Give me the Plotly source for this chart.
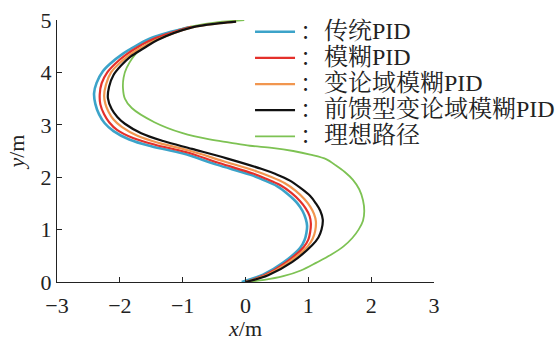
import plotly.graph_objects as go

# ---- data ----
names = ["传统PID", "模糊PID", "变论域模糊PID", "前馈型变论域模糊PID", "理想路径"]

x_trad = [-0.06, 0.28, 0.60, 0.87, 0.94, 0.97, 0.98, 0.96, 0.91, 0.82, 0.68, 0.50, 0.28, 0.07, -0.46, -0.99, -1.50, -1.85, -2.10, -2.24, -2.33, -2.39, -2.41, -2.37, -2.27, -2.14, -1.97, -1.75, -1.49, -0.90]
y_trad = [0.00, 0.14, 0.37, 0.65, 0.80, 0.94, 1.07, 1.20, 1.35, 1.51, 1.67, 1.83, 1.95, 2.05, 2.24, 2.45, 2.59, 2.72, 2.88, 3.03, 3.20, 3.40, 3.60, 3.80, 4.02, 4.18, 4.34, 4.50, 4.66, 4.86]

x_fuzzy = [0.00, 0.30, 0.64, 0.92, 1.00, 1.03, 1.04, 1.02, 0.96, 0.87, 0.73, 0.55, 0.33, 0.12, -0.42, -0.95, -1.44, -1.79, -2.04, -2.17, -2.25, -2.31, -2.32, -2.29, -2.20, -2.07, -1.90, -1.69, -1.44, -0.86]
y_fuzzy = [0.00, 0.13, 0.37, 0.66, 0.81, 0.96, 1.12, 1.26, 1.40, 1.54, 1.70, 1.85, 1.97, 2.07, 2.27, 2.48, 2.62, 2.75, 2.90, 3.05, 3.20, 3.39, 3.58, 3.79, 4.00, 4.17, 4.34, 4.50, 4.65, 4.87]

x_vu = [0.00, 0.33, 0.69, 0.99, 1.07, 1.11, 1.12, 1.09, 1.03, 0.94, 0.80, 0.62, 0.40, 0.18, -0.36, -0.90, -1.37, -1.72, -1.97, -2.10, -2.18, -2.23, -2.25, -2.22, -2.14, -2.01, -1.85, -1.65, -1.40, -0.85, -0.40, -0.15]
y_vu = [0.00, 0.13, 0.38, 0.68, 0.83, 0.98, 1.16, 1.30, 1.44, 1.58, 1.74, 1.89, 2.01, 2.11, 2.31, 2.51, 2.65, 2.79, 2.96, 3.10, 3.25, 3.40, 3.55, 3.77, 4.00, 4.17, 4.33, 4.48, 4.63, 4.86, 4.94, 4.97]

x_ff = [0.00, 0.36, 0.74, 1.06, 1.16, 1.21, 1.23, 1.19, 1.12, 1.03, 0.88, 0.70, 0.48, 0.25, -0.30, -0.85, -1.31, -1.66, -1.92, -2.04, -2.13, -2.19, -2.17, -2.10, -1.98, -1.83, -1.62, -1.40, -0.85, -0.40, -0.15]
y_ff = [0.00, 0.13, 0.38, 0.70, 0.85, 1.00, 1.19, 1.36, 1.50, 1.64, 1.79, 1.94, 2.06, 2.16, 2.36, 2.54, 2.69, 2.84, 3.02, 3.15, 3.30, 3.51, 3.73, 3.95, 4.13, 4.30, 4.46, 4.62, 4.86, 4.94, 4.97]

x_ideal = [0.00, 0.30, 0.60, 0.88, 1.13, 1.36, 1.56, 1.70, 1.80, 1.87, 1.89, 1.87, 1.81, 1.71, 1.58, 1.42, 1.29, 1.03, 0.76, 0.42, 0.07, -0.25, -0.57, -1.00, -1.45, -1.81, -1.92, -1.95, -1.94, -1.89, -1.71, -1.39, -0.96, -0.49, -0.02]
y_ideal = [0.00, 0.04, 0.11, 0.22, 0.37, 0.52, 0.68, 0.84, 1.00, 1.17, 1.35, 1.56, 1.77, 1.95, 2.10, 2.24, 2.34, 2.43, 2.50, 2.56, 2.60, 2.66, 2.72, 2.84, 3.05, 3.32, 3.50, 3.70, 3.90, 4.09, 4.40, 4.66, 4.85, 4.95, 5.00]

x_ticks = [-3, -2, -1, 0, 1, 2, 3]
y_ticks = [0, 1, 2, 3, 4, 5]
x_ticktext = ["−3", "−2", "−1", "0", "1", "2", "3"]

colors = ["#3CA3C9", "#E4302B", "#F1964F", "#111111", "#7DC253"]
series = [(x_trad, y_trad), (x_fuzzy, y_fuzzy), (x_vu, y_vu), (x_ff, y_ff), (x_ideal, y_ideal)]
widths = [2.6, 2.2, 2.2, 2.2, 1.8]

FONT = "Liberation Serif, 'Noto Serif CJK SC', 'Noto Sans CJK SC', serif"

fig = go.Figure()
draw_order = [4, 0, 1, 2, 3]
for i in draw_order:
    xs, ys = series[i]
    fig.add_trace(go.Scatter(
        x=xs, y=ys, mode="lines",
        name='<span style="font-size:24px">：' + names[i] + '</span>',
        line=dict(color=colors[i], width=widths[i], shape="spline", smoothing=1.0),
        legendrank=i + 1,
    ))

fig.update_layout(
    width=556, height=341,
    margin=dict(l=57, r=122, t=20, b=58.5, autoexpand=False),
    paper_bgcolor="white", plot_bgcolor="white",
    font=dict(family=FONT, size=20, color="#222"),
    showlegend=True,
    legend=dict(x=0.512, y=1.024, xanchor="left", yanchor="top",
                bgcolor="rgba(0,0,0,0)", font=dict(size=17.8),
                tracegroupgap=0, itemwidth=40),
)
fig.update_xaxes(range=[-3, 3], tickvals=x_ticks, ticktext=x_ticktext,
                 showline=True, linecolor="#222", linewidth=1.2, mirror=False,
                 ticks="inside", ticklen=5, tickcolor="#222", showgrid=False, zeroline=False,
                 tickfont=dict(size=22), automargin=False, ticklabelstandoff=3,
                 title=dict(text="<i>x</i>/m", font=dict(size=22), standoff=18))
fig.update_yaxes(range=[0, 5], tickvals=y_ticks,
                 showline=True, linecolor="#222", linewidth=1.2, mirror=False,
                 ticks="inside", ticklen=5, tickcolor="#222", showgrid=False, zeroline=False,
                 tickfont=dict(size=22), automargin=False,
                 title=dict(text="<i>y</i>/m", font=dict(size=22), standoff=9))

# remove the default 8px page margin so the figure fills the 556x341 window
fig.write_html("out.html", config={"displayModeBar": False},
               post_script="document.body.style.margin='0';")
